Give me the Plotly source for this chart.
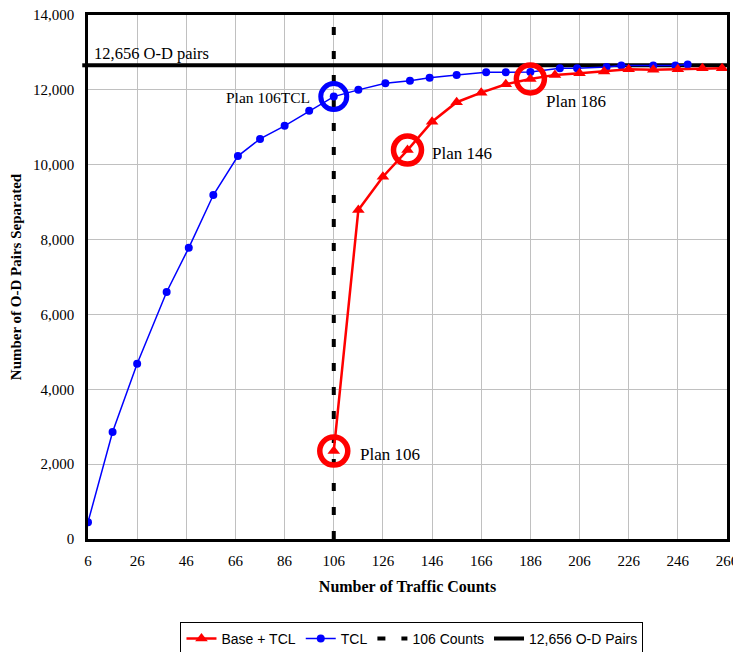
import plotly.graph_objects as go

# ---- data ----
tcl_x = [6, 16, 26, 38, 47, 57, 67, 76, 86, 96, 106, 116, 127, 137, 145, 156,
         168, 176, 186, 198, 205, 217, 223, 236, 245, 250]
tcl_y = [450, 2860, 4680, 6600, 7780, 9190, 10230, 10690, 11040, 11440, 11820,
         12000, 12175, 12245, 12325, 12400, 12470, 12470, 12480, 12575, 12575,
         12610, 12650, 12650, 12650, 12680]

base_x = [106, 116, 126, 136, 146, 156, 166, 176, 186, 196, 206, 216, 226, 236,
          246, 256, 264]
base_y = [2350, 8790, 9680, 10390, 11150, 11670, 11925, 12150, 12290, 12400,
          12445, 12490, 12550, 12535, 12550, 12575, 12580]

counts_line = 106
od_pairs = 12656
x_min, x_max = 6, 266
y_min, y_max = 0, 14000
x_ticks = list(range(6, 267, 20))

# highlighted plans: (x of point, label)
red_plans = [(106, "Plan 106"), (136, "Plan 146"), (186, "Plan 186")]
blue_plans = [(106, "Plan 106TCL")]

SERIF = "Liberation Serif, Times New Roman, serif"
SANS = "Liberation Sans, Arial, sans-serif"

fig = go.Figure()

# 106 counts dashed line
fig.add_trace(go.Scatter(
    x=[counts_line, counts_line], y=[y_min, y_max], mode="lines",
    line=dict(color="black", width=4, dash="8px,16px"),
    name="106 Counts", legendrank=3, hoverinfo="skip"))

# 12,656 O-D pairs line
fig.add_trace(go.Scatter(
    x=[x_min, x_max], y=[od_pairs, od_pairs], mode="lines",
    line=dict(color="black", width=4),
    name="12,656 O-D Pairs", legendrank=4, hoverinfo="skip"))

# TCL
fig.add_trace(go.Scatter(
    x=tcl_x, y=tcl_y, mode="lines+markers",
    line=dict(color="#0000FF", width=1.5),
    marker=dict(symbol="circle", size=8, color="#0000FF"),
    name="TCL", legendrank=2))

# Base + TCL
fig.add_trace(go.Scatter(
    x=base_x, y=base_y, mode="lines+markers",
    line=dict(color="#FF0000", width=2.5),
    marker=dict(symbol="triangle-up", size=11, color="#FF0000"),
    name="Base + TCL", legendrank=1))

# highlight circles
rx = [p[0] for p in red_plans]
ry = [base_y[base_x.index(p[0])] for p in red_plans]
fig.add_trace(go.Scatter(
    x=rx, y=ry, mode="markers", showlegend=False, hoverinfo="skip",
    marker=dict(symbol="circle-open", size=28, color="#FF0000",
                line=dict(width=5.5, color="#FF0000"))))
bx = [p[0] for p in blue_plans]
by = [tcl_y[tcl_x.index(p[0])] for p in blue_plans]
fig.add_trace(go.Scatter(
    x=bx, y=by, mode="markers", showlegend=False, hoverinfo="skip",
    marker=dict(symbol="circle-open", size=26, color="#0000FF",
                line=dict(width=5, color="#0000FF"))))

annotations = []
shifts = {106: (24, -3), 136: (22, -3), 186: (14, -22)}
for (px, label), yv in zip(red_plans, ry):
    dx, dy = shifts[px]
    annotations.append(dict(x=px, y=yv, text=label, showarrow=False,
                            xanchor="left", yanchor="middle", xshift=dx, yshift=dy,
                            font=dict(family=SERIF, size=17, color="black")))
for (px, label), yv in zip(blue_plans, by):
    annotations.append(dict(x=px, y=yv, text=label, showarrow=False,
                            xanchor="right", yanchor="middle", xshift=-22, yshift=-1,
                            font=dict(family=SERIF, size=15.5, color="black")))
annotations.append(dict(xref="paper", x=0.006, y=od_pairs, text="12,656 O-D pairs",
                        showarrow=False, xanchor="left", yanchor="bottom", yshift=0,
                        font=dict(family=SERIF, size=16.5, color="black")))

# page body has an 8px margin, so the figure is 8px smaller and margins shifted
fig.update_layout(
    width=733, height=644,
    margin=dict(l=80, r=14, t=7, b=113, autoexpand=False),
    paper_bgcolor="white", plot_bgcolor="white",
    annotations=annotations,
    shapes=[dict(type="line", xref="paper", yref="y", x0=-0.009, x1=0,
                 y0=od_pairs, y1=od_pairs, line=dict(color="black", width=4))],
    legend=dict(orientation="h", x=0.507, xanchor="center", y=-0.158, yanchor="top",
                font=dict(family=SANS, size=14, color="black"),
                bordercolor="black", borderwidth=1, bgcolor="white",
                traceorder="normal"),
    showlegend=True,
)

fig.update_xaxes(
    range=[x_min, x_max], tickvals=x_ticks, ticks="", ticklabelstandoff=6,
    automargin=False, ticklabeloverflow="allow",
    showgrid=True, gridcolor="#c0c0c0", gridwidth=1, zeroline=False,
    showline=True, linecolor="black", linewidth=2.5, mirror=True,
    tickfont=dict(family=SERIF, size=15, color="black"),
    title=dict(text="<b>Number of Traffic Counts</b>", standoff=14,
               font=dict(family=SERIF, size=16, color="black")))
fig.update_yaxes(
    range=[y_min, y_max], dtick=2000, tickformat=",", ticks="", ticklabelstandoff=8,
    automargin=False, ticklabeloverflow="allow",
    showgrid=True, gridcolor="#c0c0c0", gridwidth=1, zeroline=False,
    showline=True, linecolor="black", linewidth=2.5, mirror=True,
    tickfont=dict(family=SERIF, size=15, color="black"),
    title=dict(text="<b>Number of O-D Pairs Separated</b>", standoff=10,
               font=dict(family=SERIF, size=15, color="black")))

# hide page scrollbars so nothing at the right edge is covered
fig.write_html(
    "out.html",
    post_script="document.documentElement.style.overflow='hidden';"
                "document.body.style.overflow='hidden';")
